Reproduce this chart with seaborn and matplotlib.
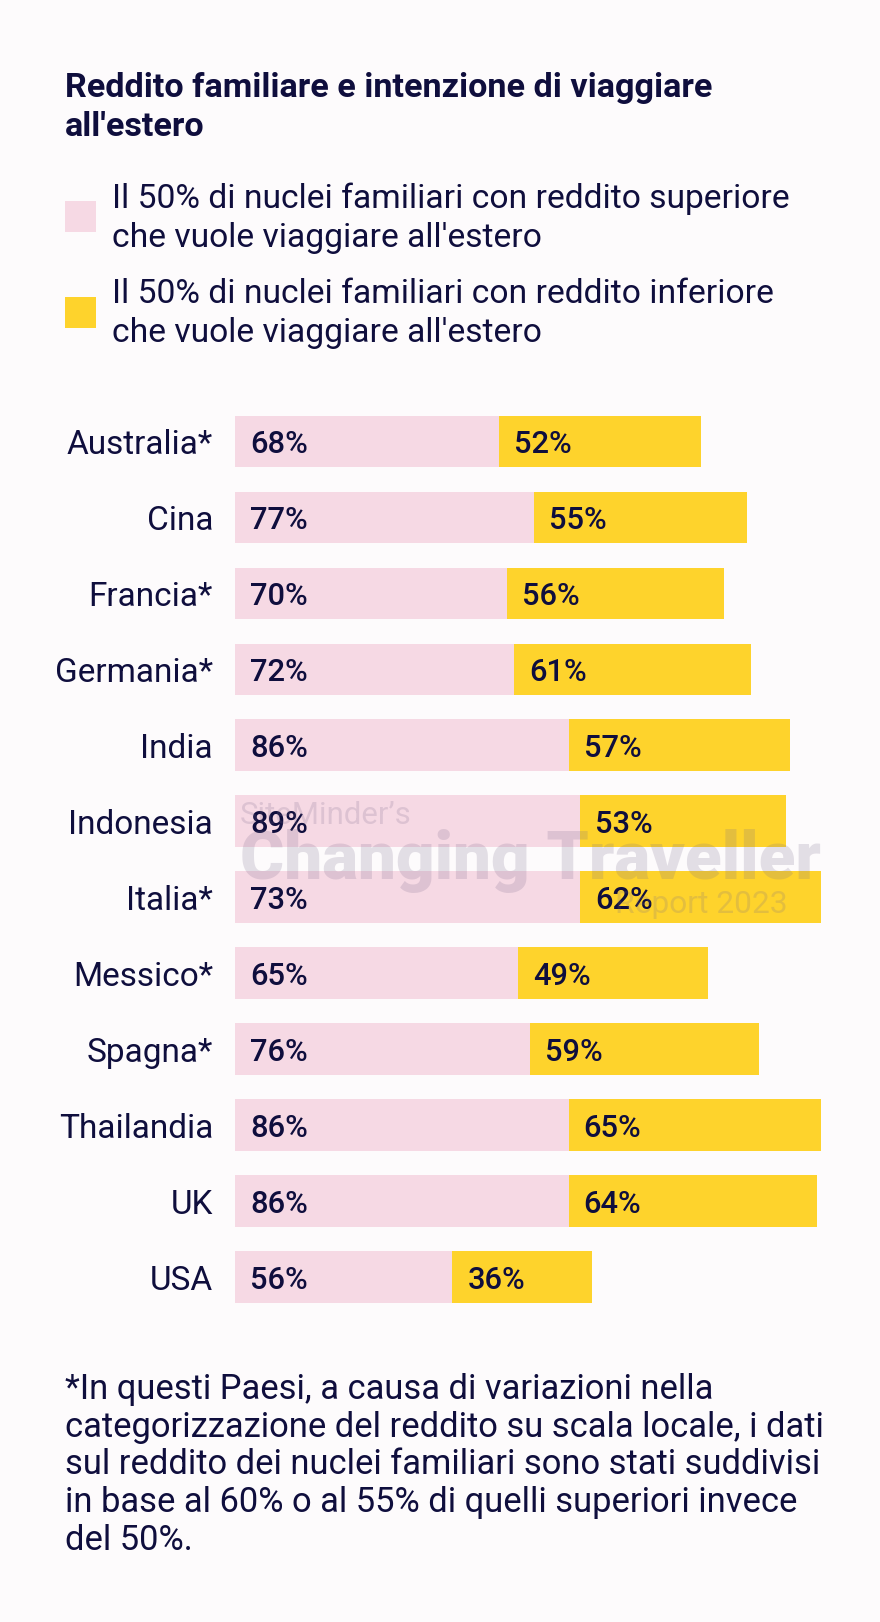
import matplotlib
matplotlib.use('Agg')
import matplotlib.pyplot as plt
import seaborn as sns
import pandas as pd

# ---------------- data ----------------
countries = ["Australia*", "Cina", "Francia*", "Germania*", "India", "Indonesia",
             "Italia*", "Messico*", "Spagna*", "Thailandia", "UK", "USA"]
higher_labels = [68, 77, 70, 72, 86, 89, 73, 65, 76, 86, 86, 56]
# pink segment lengths as drawn in the reference picture
higher_bars = [68, 77, 70, 72, 86, 89, 89, 73, 76, 86, 86, 56]
lower = [52, 55, 56, 61, 57, 53, 62, 49, 59, 65, 64, 36]

title_lines = ["Reddito familiare e intenzione di viaggiare", "all'estero"]
legend_high = ["Il 50% di nuclei familiari con reddito superiore",
               "che vuole viaggiare all'estero"]
legend_low = ["Il 50% di nuclei familiari con reddito inferiore",
              "che vuole viaggiare all'estero"]
footnote_lines = ["*In questi Paesi, a causa di variazioni nella",
                  "categorizzazione del reddito su scala locale, i dati",
                  "sul reddito dei nuclei familiari sono stati suddivisi",
                  "in base al 60% o al 55% di quelli superiori invece",
                  "del 50%."]
watermark = ["SiteMinder\u2019s", "Changing Traveller", "Report 2023"]

# ---------------- style ----------------
BG = "#fdfbfc"
PINK = "#f6d9e4"
YELLOW = "#fed32c"
NAVY = "#0f0e3d"
WM = "#7a6a8a"

sns.set_theme(style="white")
plt.rcParams['font.family'] = ['Roboto', 'DejaVu Sans']

W, H = 880, 1622
fig = plt.figure(figsize=(W / 100, H / 100), dpi=100, facecolor=BG)

x0 = 235
px_per_pct = 3.88
top, bottom = 403.5, 1315
ax = fig.add_axes([x0 / W, (H - bottom) / H, (W - x0) / W, (bottom - top) / H])
ax.set_facecolor('none')

df = pd.DataFrame({"country": countries,
                   "higher": higher_bars,
                   "total": [h + l for h, l in zip(higher_bars, lower)]})
sns.barplot(data=df, y="country", x="total", color=YELLOW, width=0.68,
            saturation=1, orient="h", linewidth=0, ax=ax)
sns.barplot(data=df, y="country", x="higher", color=PINK, width=0.68,
            saturation=1, orient="h", linewidth=0, ax=ax)

ax.set_xlim(0, (W - x0) / px_per_pct)
ax.set_ylim(len(countries) - 0.5, -0.5)
ax.set_xticks([])
ax.set_xlabel("")
ax.set_ylabel("")
for s in ax.spines.values():
    s.set_visible(False)
ax.tick_params(axis='y', length=0, pad=22 * 0.72, labelsize=20, labelcolor=NAVY)

val_texts = []
for i in range(len(countries)):
    t1 = ax.annotate(f"{higher_labels[i]}%", xy=(0, i), xytext=(15 * 0.72, 0),
                     textcoords='offset points', va='center_baseline', ha='left',
                     color=NAVY, fontsize=16, fontweight='medium', zorder=5)
    t2 = ax.annotate(f"{lower[i]}%", xy=(higher_bars[i], i), xytext=(15 * 0.72, 0),
                     textcoords='offset points', va='center_baseline', ha='left',
                     color=NAVY, fontsize=16, fontweight='medium', zorder=5)
    val_texts += [t1, t2]


def ftext(x, y, s, **kw):
    return fig.text(x / W, 1 - y / H, s, va='baseline', ha='left', **kw)


title_t = [ftext(65, 96.5, title_lines[0], color=NAVY, fontsize=20, fontweight='bold'),
           ftext(65, 136.5, title_lines[1], color=NAVY, fontsize=20, fontweight='bold')]
leg_t = [ftext(112, 208, legend_high[0], color=NAVY, fontsize=18),
         ftext(112, 247, legend_high[1], color=NAVY, fontsize=18),
         ftext(112, 303, legend_low[0], color=NAVY, fontsize=18),
         ftext(112, 342, legend_low[1], color=NAVY, fontsize=18)]
foot_y = [1399, 1437, 1474, 1512, 1550]
foot_t = [ftext(65, y, s, color=NAVY, fontsize=18) for y, s in zip(foot_y, footnote_lines)]

# legend swatches
for yy, c in [(201, PINK), (297, YELLOW)]:
    fig.patches.append(plt.Rectangle((65 / W, 1 - (yy + 31) / H), 31 / W, 31 / H,
                                     transform=fig.transFigure, facecolor=c,
                                     edgecolor='none'))

wm_t = [ftext(240, 824, watermark[0], color=WM, alpha=0.2, fontsize=16, zorder=4),
        ftext(240, 879, watermark[1], color=WM, alpha=0.2, fontsize=40,
              fontweight='heavy', zorder=4),
        ftext(615, 913, watermark[2], color=WM, alpha=0.2, fontsize=16, zorder=4)]

# ---------- fit font sizes to the widths measured on the reference ----------
fig.canvas.draw()
r = fig.canvas.get_renderer()


def fit_group(texts, ref, target):
    w = ref.get_window_extent(r).width
    f = target / w
    for t in texts:
        t.set_fontsize(t.get_fontsize() * f)


fit_group(title_t, title_t[0], 646)
fit_group(leg_t, leg_t[0], 676)
fit_group(foot_t, foot_t[2], 754)
fit_group(val_texts, val_texts[0], 58)
fit_group([wm_t[0]], wm_t[0], 172)
fit_group([wm_t[1]], wm_t[1], 580)
fit_group([wm_t[2]], wm_t[2], 173)

ticklabels = ax.get_yticklabels()
germ = [t for t in ticklabels if t.get_text() == "Germania*"][0]
gw = germ.get_window_extent(r).width
ax.tick_params(axis='y', labelsize=20 * 158 / gw)

fig.savefig("out.png", dpi=100, facecolor=BG)
